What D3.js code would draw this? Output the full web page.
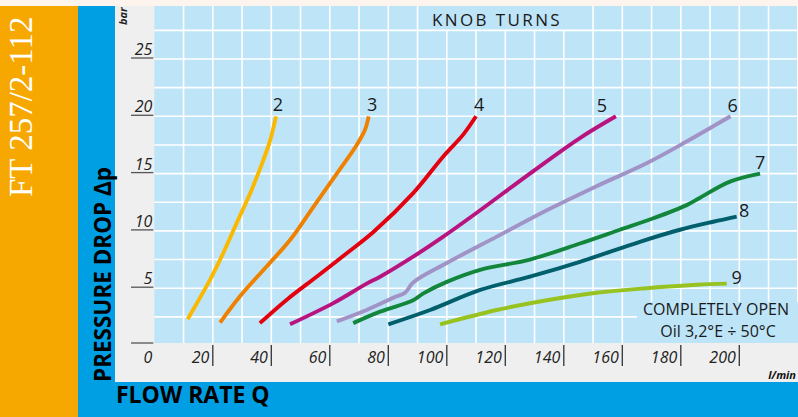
<!DOCTYPE html>
<html>
<head>
<meta charset="utf-8">
<script src="https://d3js.org/d3.v7.min.js"></script>
<style>
    body { margin: 0; }
    svg { display: block; }
</style>
</head>
<body>
<svg id="chart" width="798" height="417" font-family="'Open Sans', sans-serif"></svg>
<script>
    // knob turns, each curve as [flow l/min, pressure drop bar]
    var turns = ["2", "3", "4", "5", "6", "7", "8", "9"]
    var turn2 = [[11.4, 2.3], [19, 5.7], [23, 7.75], [28.2, 10.7], [33.3, 13.6], [37.3, 16.2], [39.6, 17.9], [41.6, 20]]
    var turn3 = [[22.5, 2.0], [29.3, 4.3], [38.4, 6.9], [46.4, 9.2], [54.4, 12.1], [62.4, 15.0], [69.2, 17.5], [72.0, 18.8], [73.3, 20]]
    var turn4 = [[36.1, 1.95], [45.3, 4.0], [55.5, 6.0], [65.8, 8.05], [74.9, 9.9], [88.5, 13.3], [98.8, 16.5], [105.6, 18.4], [110, 20]]
    var turn5 = [[46.4, 1.85], [61.2, 3.7], [72.6, 5.4], [77.2, 6.0], [88.5, 7.75], [98.8, 9.5], [111.4, 11.8], [128.4, 15.0], [145.5, 18.1], [157.8, 20]]
    var turn6 = [[62.4, 2.1], [72.6, 3.1], [82, 4.2], [85.7, 4.6], [88.5, 5.5], [100, 7.2], [117.1, 9.5], [134.2, 11.8], [151.2, 13.9], [168.3, 15.9], [182, 17.8], [197, 20]]
    var turn7 = [[68.0, 1.95], [77.2, 2.95], [88.5, 3.95], [92.0, 4.55], [100, 5.55], [111.4, 6.6], [128.4, 7.5], [145.5, 8.9], [159.2, 10.1], [170.6, 11.1], [182, 12.25], [186.6, 12.9], [196.8, 14.3], [207.1, 15.0]]
    var turn8 = [[80, 1.85], [94.3, 3.1], [111.4, 4.85], [128.4, 6.0], [145.5, 7.3], [166, 9.05], [179.7, 10.1], [191.1, 10.8], [199.1, 11.25]]
    var turn9 = [[97.7, 1.85], [117.1, 3.1], [134.2, 3.95], [151.2, 4.6], [168.3, 5.0], [185.4, 5.3], [195.7, 5.4]]
    var curves = [turn2, turn3, turn4, turn5, turn6, turn7, turn8, turn9]
    var xTicks = [20, 40, 60, 80, 100, 120, 140, 160, 180, 200]
    var yTicks = [5, 10, 15, 20, 25]

    var colors = ["#fbb800", "#ef8100", "#e3000f", "#b8137e", "#a193c6", "#12873b", "#005f6b", "#97c21f"]
    // label nudges from curve end, px
    var nudge = [[2, -5.5], [3.4, -5.5], [3, -5.5], [-14, -4], [2, -4.5], [0, -5], [7.5, 0.6], [10, 0]]

    var svg = d3.select("#chart")
    var x = d3.scaleLinear().domain([0, 200]).range([154.3, 739.3])
    var y = d3.scaleLinear().domain([0, 25]).range([345.5, 59])
    var bg = "#bee4f8"

    // frame bands
    svg.append("rect").attr("width", 798).attr("height", 417).attr("fill", "#fdf4ee")
    svg.append("rect").attr("x", 0).attr("y", 6).attr("width", 78).attr("height", 411).attr("fill", "#f6a800")
    svg.append("rect").attr("x", 78).attr("y", 6).attr("width", 720).attr("height", 411).attr("fill", "#009ee3")
    svg.append("rect").attr("x", 115).attr("y", 6).attr("width", 683).attr("height", 376).attr("fill", "#efefef")

    // plot area
    var pTop = 6, pBottom = 343, pLeft = x(0), pRight = 798
    svg.append("rect").attr("x", pLeft).attr("y", pTop).attr("width", pRight - pLeft).attr("height", pBottom - pTop)
        .attr("fill", bg)

    var grid = svg.append("g").attr("stroke", "#fff").attr("stroke-width", 1.6)
    grid.selectAll("line").data(d3.range(10, 221, 10)).enter().append("line")
        .attr("x1", d => x(d)).attr("x2", d => x(d))
        .attr("y1", pTop).attr("y2", pBottom)

    // knob turns box hides the vertical lines
    svg.append("rect").attr("x", 426).attr("y", pTop).attr("width", 142).attr("height", 25).attr("fill", bg)

    var hgrid = svg.append("g").attr("stroke", "#fff").attr("stroke-width", 1.6)
    hgrid.selectAll("line").data(d3.range(2.5, 28, 2.5)).enter().append("line")
        .attr("x1", pLeft).attr("x2", pRight)
        .attr("y1", d => y(d)).attr("y2", d => y(d))

    svg.append("text").attr("x", 497).attr("y", 26).attr("text-anchor", "middle")
        .attr("font-size", 17).attr("letter-spacing", 2.4).attr("fill", "#1a1a1a")
        .text("KNOB TURNS")

    // curves
    var line = d3.line().x(d => x(d[0])).y(d => y(d[1])).curve(d3.curveCatmullRom.alpha(0.5))
    svg.append("g").selectAll("path").data(curves).enter().append("path")
        .attr("d", line)
        .attr("fill", "none")
        .attr("stroke", (d, i) => colors[i])
        .attr("stroke-width", 3.9)

    svg.append("g").selectAll("text").data(curves).enter().append("text")
        .attr("x", (d, i) => x(d[d.length - 1][0]) + nudge[i][0])
        .attr("y", (d, i) => y(d[d.length - 1][1]) + nudge[i][1])
        .attr("text-anchor", "middle")
        .attr("font-size", 18)
        .attr("fill", "#1a1a1a")
        .text((d, i) => turns[i])

    // completely open note
    svg.append("rect").attr("x", 637).attr("y", 302).attr("width", 161).attr("height", pBottom - 302).attr("fill", bg)
    svg.append("text").attr("x", 716).attr("y", 315).attr("text-anchor", "middle")
        .attr("font-size", 16).attr("fill", "#1a1a1a").text("COMPLETELY OPEN")
    svg.append("text").attr("x", 718).attr("y", 337).attr("text-anchor", "middle")
        .attr("font-size", 16).attr("fill", "#1a1a1a").text("Oil 3,2°E ÷ 50°C")

    // y axis
    var ya = svg.append("g")
    ya.selectAll("line").data([0].concat(yTicks)).enter().append("line")
        .attr("x1", 131).attr("x2", pLeft - 1)
        .attr("y1", d => d == 0 ? pBottom : y(d) - 1).attr("y2", d => d == 0 ? pBottom : y(d) - 1)
        .attr("stroke", "#555").attr("stroke-width", 1.3)
    ya.selectAll("text").data(yTicks).enter().append("text")
        .attr("x", pLeft - 2).attr("y", d => y(d) - 4)
        .attr("text-anchor", "end").attr("font-size", 16).attr("font-style", "italic").attr("fill", "#222")
        .text(d => d)
    svg.append("text").attr("transform", "translate(127,25) rotate(-90)")
        .attr("font-size", 11).attr("font-weight", "bold").attr("font-style", "italic").attr("fill", "#222")
        .text("bar")

    // x axis
    var xa = svg.append("g")
    xa.selectAll("line").data(xTicks).enter().append("line")
        .attr("x1", d => x(d)).attr("x2", d => x(d))
        .attr("y1", 345).attr("y2", 366)
        .attr("stroke", "#333").attr("stroke-width", 1.3)
    xa.selectAll("text").data([0].concat(xTicks)).enter().append("text")
        .attr("x", d => d == 0 ? x(d) - 2 : x(d) - 3.5).attr("y", 363)
        .attr("text-anchor", "end").attr("font-size", 16).attr("font-style", "italic").attr("fill", "#222")
        .text(d => d)
    svg.append("text").attr("x", 796).attr("y", 379).attr("text-anchor", "end")
        .attr("font-size", 11).attr("font-weight", "bold").attr("font-style", "italic").attr("fill", "#111")
        .text("l/min")

    // axis titles
    svg.append("text").attr("x", 116).attr("y", 403)
        .attr("font-size", 23).attr("font-weight", "bold").attr("fill", "#000")
        .text("FLOW RATE Q")
    svg.append("text").attr("transform", "translate(111,382) rotate(-90)")
        .attr("font-size", 22.5).attr("font-weight", "bold").attr("fill", "#000")
        .text("PRESSURE DROP Δp")

    svg.append("text").attr("transform", "translate(32,197) rotate(-90)")
        .attr("font-family", "'Liberation Serif', serif")
        .attr("font-size", 33).attr("fill", "#fff")
        .text("FT 257/2-112")
</script>
</body>
</html>
